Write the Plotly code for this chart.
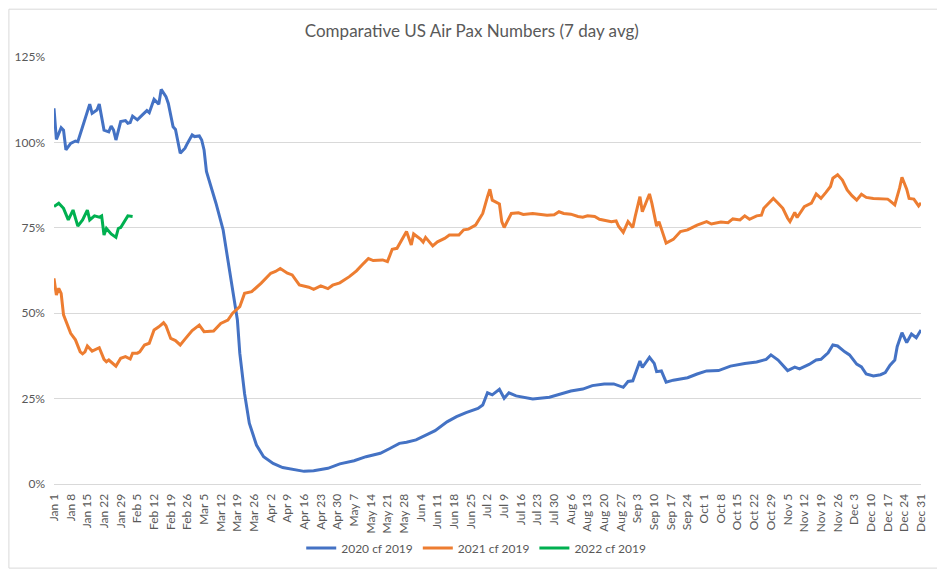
import plotly.graph_objects as go

# Day-of-year index (0 = Jan 1, 364 = Dec 31) and values in %
day_2020 = [0, 1, 3, 4, 5, 7, 9, 10, 12, 14, 15, 16, 18, 19, 21, 23, 24, 25, 26, 28, 30, 31, 32, 33, 35, 37, 39, 40, 42, 44, 45, 47, 48, 50, 51, 53, 55, 56, 58, 59, 61, 62, 63, 64, 66, 68, 71, 73, 75, 77, 78, 80, 82, 85, 88, 92, 96, 100, 103, 105, 109, 115, 120, 126, 131, 137, 141, 145, 148, 152, 157, 160, 165, 169, 173, 178, 180, 181, 182, 184, 187, 189, 191, 194, 201, 208, 213, 217, 222, 226, 231, 235, 239, 241, 243, 245, 246, 247, 250, 252, 253, 255, 257, 260, 266, 270, 274, 279, 284, 290, 295, 299, 301, 304, 306, 308, 311, 313, 317, 320, 322, 325, 327, 329, 332, 334, 337, 339, 341, 344, 347, 349, 351, 353, 354, 356, 358, 360, 362, 364]
val_2020 = [110.0, 100.9, 104.3, 103.6, 97.8, 99.7, 100.4, 100.2, 104.6, 109.5, 111.2, 108.5, 109.5, 111.2, 103.6, 103.1, 104.8, 103.6, 100.7, 106.1, 106.4, 105.6, 105.8, 107.7, 106.6, 108.0, 109.3, 108.7, 112.6, 111.2, 115.5, 113.4, 111.4, 104.6, 103.8, 96.8, 98.3, 99.7, 102.2, 101.7, 101.9, 100.7, 97.8, 91.5, 87.0, 82.2, 74.4, 65.6, 55.8, 48.0, 38.3, 26.5, 17.8, 11.4, 8.0, 6.0, 4.8, 4.3, 4.0, 3.7, 3.9, 4.6, 5.9, 6.8, 8.0, 9.0, 10.4, 11.9, 12.2, 12.9, 14.6, 15.6, 18.2, 19.7, 20.9, 22.1, 23.1, 25.1, 26.7, 26.1, 27.7, 25.1, 26.7, 25.8, 24.9, 25.4, 26.3, 27.2, 27.8, 28.8, 29.3, 29.3, 28.3, 30.0, 30.2, 33.9, 36.0, 34.1, 37.1, 35.3, 32.9, 33.1, 29.8, 30.4, 31.1, 32.2, 33.1, 33.2, 34.5, 35.3, 35.7, 36.5, 37.8, 36.3, 34.8, 33.2, 34.2, 33.7, 35.0, 36.3, 36.5, 38.4, 40.7, 40.4, 38.7, 37.8, 35.1, 34.3, 32.2, 31.6, 32.0, 32.6, 34.8, 36.3, 40.2, 44.3, 41.4, 43.9, 42.8, 45.1]

day_2021 = [0, 1, 2, 3, 4, 5, 7, 9, 11, 12, 13, 14, 16, 19, 21, 22, 23, 26, 28, 30, 32, 33, 35, 36, 38, 40, 42, 44, 46, 47, 49, 51, 53, 55, 58, 61, 63, 67, 70, 73, 75, 78, 80, 83, 87, 91, 93, 95, 98, 100, 103, 107, 109, 112, 115, 117, 120, 124, 127, 130, 132, 134, 138, 140, 142, 144, 146, 148, 150, 151, 154, 155, 156, 159, 161, 164, 166, 170, 172, 174, 177, 179, 180, 182, 183, 184, 186, 187, 188, 189, 192, 195, 197, 201, 207, 210, 212, 214, 217, 220, 222, 224, 227, 229, 234, 236, 237, 239, 241, 243, 244, 246, 247, 250, 251, 253, 254, 257, 260, 263, 266, 270, 274, 276, 280, 283, 285, 288, 290, 292, 295, 297, 298, 299, 302, 304, 306, 308, 309, 311, 312, 315, 317, 318, 320, 322, 324, 326, 327, 329, 331, 333, 335, 337, 339, 341, 344, 347, 350, 351, 353, 355, 356, 358, 359, 361, 363, 364]
val_2021 = [60.2, 55.3, 57.3, 55.8, 49.5, 47.5, 44.1, 42.2, 38.7, 38.1, 38.7, 40.4, 38.9, 39.9, 36.5, 35.8, 36.3, 34.5, 36.8, 37.3, 36.6, 38.3, 38.3, 38.7, 40.7, 41.2, 45.1, 46.0, 47.2, 46.3, 42.6, 42.0, 40.7, 42.4, 44.9, 46.5, 44.6, 44.8, 47.0, 48.0, 50.0, 51.9, 55.8, 56.3, 58.8, 61.7, 62.2, 63.1, 61.7, 61.2, 58.3, 57.6, 57.0, 58.0, 57.2, 58.2, 58.9, 60.7, 62.4, 64.6, 66.0, 65.4, 65.6, 65.1, 68.7, 69.0, 71.4, 73.9, 70.0, 73.2, 71.6, 70.8, 72.2, 69.7, 70.9, 71.9, 72.9, 72.9, 74.4, 74.6, 75.8, 78.3, 79.2, 84.1, 86.3, 83.1, 82.2, 82.0, 76.8, 75.1, 79.2, 79.4, 78.9, 79.2, 78.7, 78.8, 79.7, 79.2, 79.0, 78.3, 78.1, 78.5, 78.3, 77.5, 76.8, 77.0, 75.5, 73.7, 76.8, 75.1, 78.3, 84.1, 79.7, 84.9, 82.2, 75.5, 76.8, 70.5, 71.6, 73.9, 74.4, 75.8, 76.8, 76.1, 76.7, 76.5, 77.6, 77.3, 78.5, 77.5, 78.5, 78.7, 80.7, 81.4, 83.6, 82.2, 80.7, 77.8, 76.8, 79.5, 78.0, 81.2, 82.0, 82.2, 84.9, 83.6, 85.3, 87.1, 89.5, 90.5, 89.0, 86.1, 84.4, 83.1, 84.8, 83.9, 83.6, 83.4, 83.4, 82.9, 81.7, 86.6, 89.8, 86.3, 83.6, 83.4, 81.4, 82.3]

day_2022 = [0, 2, 4, 6, 8, 10, 12, 14, 15, 17, 19, 20, 21, 22, 24, 26, 27, 28, 31, 33]
val_2022 = [81.2, 82.2, 80.7, 77.3, 80.2, 75.5, 77.3, 80.2, 77.3, 78.5, 78.1, 78.5, 72.9, 74.8, 73.2, 72.2, 74.8, 75.1, 78.5, 78.3]

tick_days = list(range(0, 365, 7))
tick_labels = ["Jan 1", "Jan 8", "Jan 15", "Jan 22", "Jan 29", "Feb 5", "Feb 12", "Feb 19", "Feb 26",
               "Mar 5", "Mar 12", "Mar 19", "Mar 26", "Apr 2", "Apr 9", "Apr 16", "Apr 23", "Apr 30",
               "May 7", "May 14", "May 21", "May 28", "Jun 4", "Jun 11", "Jun 18", "Jun 25", "Jul 2",
               "Jul 9", "Jul 16", "Jul 23", "Jul 30", "Aug 6", "Aug 13", "Aug 20", "Aug 27", "Sep 3",
               "Sep 10", "Sep 17", "Sep 24", "Oct 1", "Oct 8", "Oct 15", "Oct 22", "Oct 29", "Nov 5",
               "Nov 12", "Nov 19", "Nov 26", "Dec 3", "Dec 10", "Dec 17", "Dec 24", "Dec 31"]
y_ticks = [0, 25, 50, 75, 100, 125]
y_tick_labels = ["0%", "25%", "50%", "75%", "100%", "125%"]

series = [
    ("2020 cf 2019", day_2020, val_2020, "#4472C4"),
    ("2021 cf 2019", day_2021, val_2021, "#ED7D31"),
    ("2022 cf 2019", day_2022, val_2022, "#00B050"),
]

FONT = "Lato, 'Open Sans', sans-serif"

fig = go.Figure()
for name, xs, ys, col in series:
    fig.add_trace(go.Scatter(x=xs, y=ys, mode="lines", name=name,
                             line=dict(color=col, width=3)))

fig.update_layout(
    width=937, height=569,
    margin=dict(l=46, r=24, t=49, b=93, autoexpand=False),
    paper_bgcolor="white", plot_bgcolor="white",
    font=dict(family=FONT, color="#595959", size=12),
    title=dict(text="Comparative US Air Pax Numbers (7 day avg)",
               x=0.495, xanchor="center", y=0.96, yanchor="middle",
               font=dict(family=FONT, size=17, color="#595959")),
    legend=dict(orientation="h", x=0.487, xanchor="center", y=-0.15, yanchor="middle",
                font=dict(size=12, color="#595959"), itemwidth=30, traceorder="normal"),
    showlegend=True,
)
fig.update_xaxes(range=[0, 364], tickmode="array", tickvals=tick_days, ticktext=tick_labels,
                 tickangle=-90, showgrid=False, showline=True, linecolor="#d9d9d9",
                 linewidth=1, ticks="", zeroline=False, ticklabelstandoff=4,
                 tickfont=dict(size=12, color="#595959"))
fig.update_yaxes(range=[0, 125], tickmode="array", tickvals=y_ticks, ticktext=y_tick_labels,
                 showgrid=True, gridcolor="#d9d9d9", gridwidth=1, zeroline=False,
                 showline=False, ticks="", ticklabelstandoff=8,
                 tickfont=dict(size=12, color="#595959"))

fig.add_shape(type="rect", xref="paper", yref="paper",
              x0=-0.052, x1=1.0196, y0=-0.197, y1=1.112,
              line=dict(color="#d9d9d9", width=1), fillcolor="rgba(0,0,0,0)", layer="below")

fig.write_html("out.html")
